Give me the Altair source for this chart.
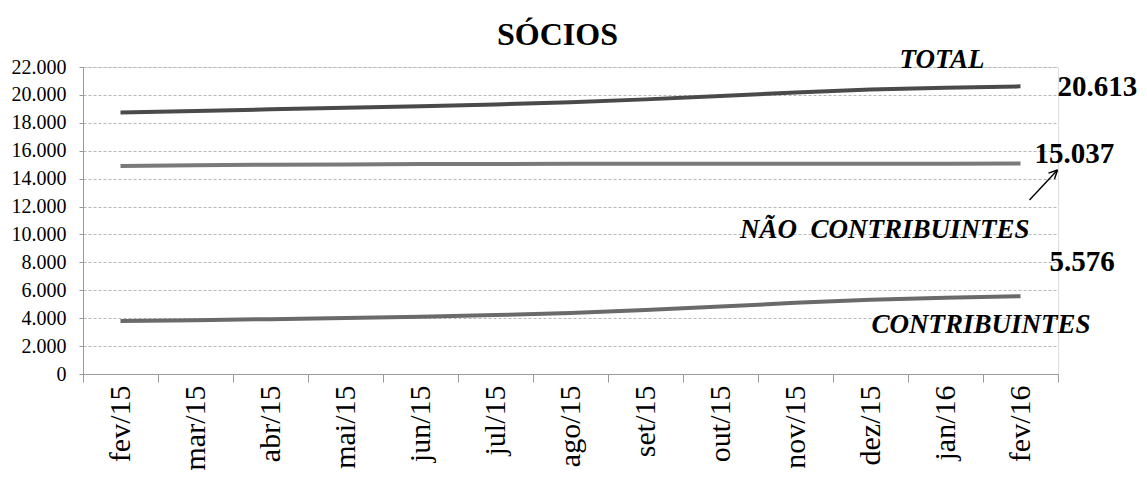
import altair as alt
import pandas as pd

months = ["fev/15", "mar/15", "abr/15", "mai/15", "jun/15", "jul/15", "ago/15",
          "set/15", "out/15", "nov/15", "dez/15", "jan/16", "fev/16"]
total = [18740, 18840, 18970, 19080, 19190, 19320, 19480, 19680, 19920, 20180, 20390, 20520, 20613]
nao_contrib = [14900, 14960, 15000, 15020, 15040, 15050, 15060, 15060, 15065, 15070, 15070, 15075, 15080]
contrib = [3800, 3860, 3930, 4010, 4100, 4220, 4380, 4580, 4830, 5100, 5320, 5470, 5576]
series = ["TOTAL", "NÃO CONTRIBUINTES", "CONTRIBUINTES"]
colors = ["#4a4a4a", "#7a7a7a", "#6a6a6a"]
y_ticks = list(range(0, 22001, 2000))

# annotations: (text, anchor month, anchor value)
name_labels = ["TOTAL", "NÃO\u00a0\u00a0CONTRIBUINTES", "CONTRIBUINTES"]
name_months = ["fev/16", "fev/16", "fev/16"]
name_values = [22500, 10300, 3500]
value_labels = ["20.613", "15.037", "5.576"]
value_months = ["fev/16", "fev/16", "fev/16"]
value_values = [20550, 15800, 8000]
arrow_month = "fev/16"
arrow_from = 12470
arrow_to = 14620
arrow_head = [13970, 14400]

FONT = "Liberation Serif"

rows = []
for name, vals in zip(series, [total, nao_contrib, contrib]):
    for m, v in zip(months, vals):
        rows.append({"mes": m, "valor": v, "serie": name})
df = pd.DataFrame(rows)

xscale = alt.Scale(type="band", domain=months, paddingInner=0, paddingOuter=0)
yscale = alt.Scale(domain=[0, 22000], nice=False)

x_axis = alt.Axis(title=None, labelAngle=-90, tickBand="extent", grid=False,
                  labelAlign="right", labelBaseline="middle")
y_axis = alt.Axis(title=None, values=y_ticks, labelOverlap=False,
                  labelExpr="replace(format(datum.value, ','), ',', '.')")


def ax_x(field="mes:N"):
    return alt.X(field, sort=months, scale=xscale, axis=x_axis)


def ax_y(field):
    return alt.Y(field, scale=yscale, axis=y_axis)


lines = alt.Chart(df).mark_line(strokeWidth=4, strokeCap="butt").encode(
    x=ax_x(),
    y=ax_y("valor:Q"),
    color=alt.Color("serie:N", scale=alt.Scale(domain=series, range=colors), legend=None),
)

layers = [lines]

name_dx = [-36, 9, 70]
for t, m, v, dx in zip(name_labels, name_months, name_values, name_dx):
    d = pd.DataFrame({"mes": [m], "valor": [v], "t": [t]})
    layers.append(alt.Chart(d).mark_text(font=FONT, fontSize=27, fontWeight="bold",
                                         fontStyle="italic", align="right",
                                         baseline="middle", dx=dx, color="black").encode(
        x=ax_x(), y=ax_y("valor:Q"), text="t:N"))

value_dx = [37, 14, 29]
for t, m, v, dx in zip(value_labels, value_months, value_values, value_dx):
    d = pd.DataFrame({"mes": [m], "valor": [v], "t": [t]})
    layers.append(alt.Chart(d).mark_text(font=FONT, fontSize=29, fontWeight="bold",
                                         align="left", baseline="middle", dx=dx,
                                         color="black").encode(
        x=ax_x(), y=ax_y("valor:Q"), text="t:N"))

# arrow
arrow_segments = [
    (arrow_from, arrow_to, 9, 37),
    (arrow_head[0], arrow_to, 34, 37),
    (arrow_head[1], arrow_to, 28, 37),
]
for y1, y2, xo1, xo2 in arrow_segments:
    d = pd.DataFrame({"mes": [arrow_month], "valor": [y1], "y2": [y2]})
    layers.append(alt.Chart(d).mark_rule(color="black", strokeWidth=1.4,
                                         xOffset=xo1, x2Offset=xo2).encode(
        x=ax_x(), x2="mes:N", y=ax_y("valor:Q"), y2="y2:Q"))

chart = alt.layer(*layers).properties(
    width=975, height=307,
    title=alt.TitleParams("SÓCIOS", font=FONT, fontSize=32, fontWeight="bold",
                          color="black", anchor="middle", dx=-13, offset=-6),
    autosize=alt.AutoSizeParams(type="none"),
    padding={"left": 75, "top": 59, "right": 81, "bottom": 100},
).configure_view(stroke=None).configure(
    background="white", font=FONT
).configure_axis(
    labelFont=FONT, labelColor="black", tickColor="#999999", domainColor="#999999",
    gridColor="#b8b8b8", gridDash=[3, 2], gridWidth=1
).configure_axisX(
    labelFontSize=30, tickSize=8, labelPadding=3
).configure_axisY(
    labelFontSize=20, tickSize=4, labelPadding=13
)

chart.save("out.html", embed_options={"renderer": "svg", "actions": False})
